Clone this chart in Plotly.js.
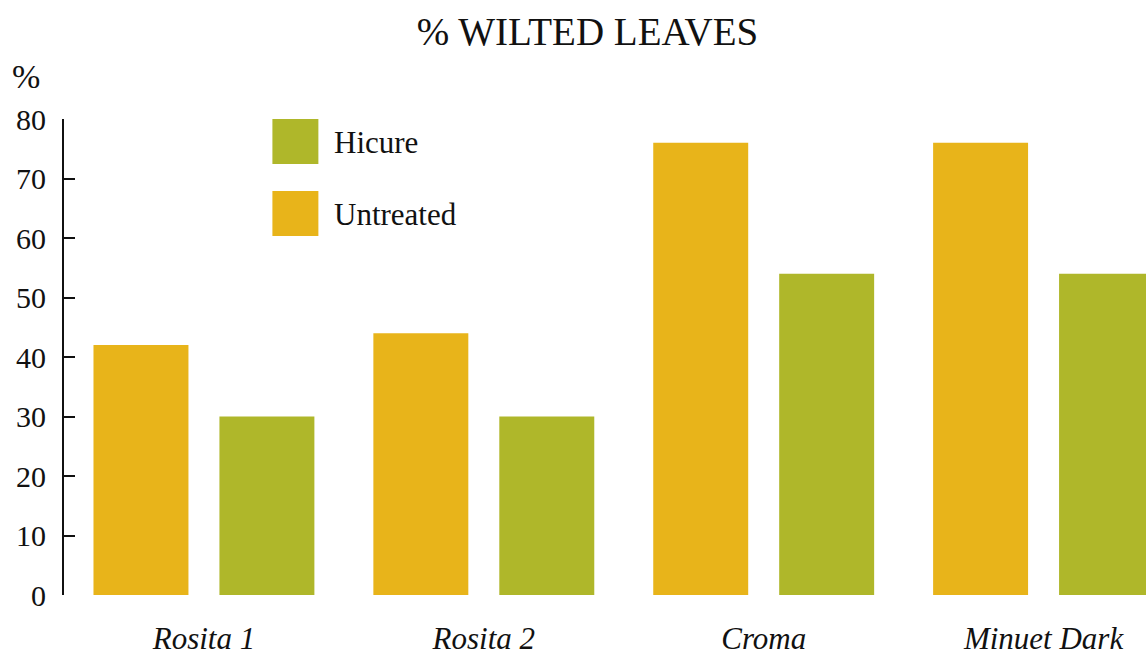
<!DOCTYPE html>
<html>
<head>
<meta charset="utf-8">
<script src="https://cdn.plot.ly/plotly-3.0.1.min.js"></script>
<style>
html,body{margin:0;padding:0;background:#fff;overflow:hidden;}
#chart{width:1146px;height:657px;}
</style>
</head>
<body>
<div id="chart"></div>
<script>
// ---- data ----
const categories = ["Rosita 1", "Rosita 2", "Croma", "Minuet Dark"];
const untreated = [42, 44, 76, 76];
const hicure = [30, 30, 54, 54];
const seriesNames = ["Untreated", "Hicure"];
const seriesColors = ["#E8B41A", "#AFB72A"];
const yTicks = [0, 10, 20, 30, 40, 50, 60, 70, 80];

const FONT = "Liberation Serif";
const W = 1146, H = 657;
const M = {l: 63.5, r: 0, t: 119, b: 62};
const plotW = W - M.l - M.r, plotH = H - M.t - M.b;
const px = x => (x - M.l) / plotW;
const py = y => 1 - (y - M.t) / plotH;

const traces = [
  {type: "bar", name: seriesNames[0], x: categories, y: untreated,
   marker: {color: seriesColors[0]}, hoverinfo: "skip", showlegend: false},
  {type: "bar", name: seriesNames[1], x: categories, y: hicure,
   marker: {color: seriesColors[1]}, hoverinfo: "skip", showlegend: false}
];

// custom legend (large squares), Hicure first
const legendOrder = [1, 0];
const shapes = [], annotations = [];
legendOrder.forEach((si, i) => {
  const top = 119 + i * 72;
  shapes.push({type: "rect", xref: "paper", yref: "paper",
    x0: px(272), x1: px(318), y0: py(top + 45), y1: py(top),
    fillcolor: seriesColors[si], line: {width: 0}});
  annotations.push({xref: "paper", yref: "paper", x: px(332), y: py(top + 23),
    xanchor: "left", yanchor: "middle", showarrow: false,
    text: seriesNames[si], font: {family: FONT, size: 31, color: "#111"}});
});
annotations.push({xref: "paper", yref: "paper", x: px(9), y: py(76),
  xanchor: "left", yanchor: "middle", showarrow: false,
  text: "%", font: {family: FONT, size: 34, color: "#111"}});

const layout = {
  width: W, height: H,
  margin: M,
  paper_bgcolor: "#fff", plot_bgcolor: "#fff",
  font: {family: FONT, color: "#111"},
  showlegend: false,
  barmode: "group", bargap: 0.1, bargroupgap: 0.246,
  title: {text: "% WILTED LEAVES", x: 587.5 / W, xref: "container", xanchor: "center",
          y: 1 - 31 / H, yref: "container", yanchor: "middle",
          font: {family: FONT, size: 39, color: "#111"}},
  xaxis: {type: "category", range: [-0.5, 3.366], showline: false, showgrid: false,
          zeroline: false, ticks: "", ticklabelstandoff: 22,
          tickfont: {family: FONT, size: 31, color: "#111", style: "italic"}},
  yaxis: {range: [0, 80], tickvals: yTicks, ticktext: yTicks.map(String),
          showline: true, linewidth: 2, linecolor: "#111",
          ticks: "inside", ticklen: 11, tickwidth: 2, tickcolor: "#111",
          showgrid: false, zeroline: false, ticklabelstandoff: 10,
          tickfont: {family: FONT, size: 30, color: "#111"}},
  shapes: shapes,
  annotations: annotations
};

Plotly.newPlot("chart", traces, layout, {displayModeBar: false, staticPlot: true});
</script>
</body>
</html>
